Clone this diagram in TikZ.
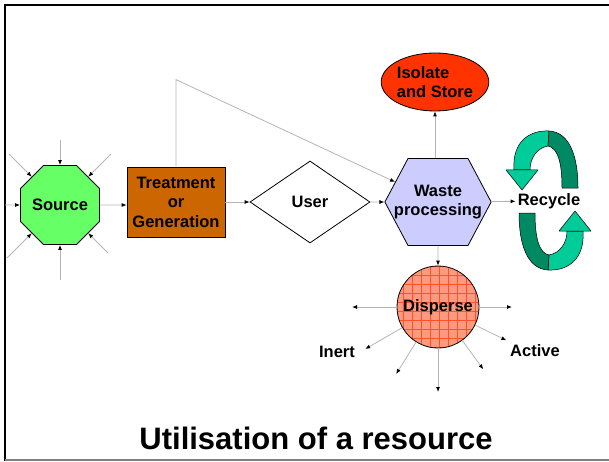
\documentclass[tikz,border=0pt]{standalone}
\usepackage{fontspec}
\setmainfont{Liberation Sans}
\usetikzlibrary{shapes.geometric,shapes.symbols,arrows.meta}

\definecolor{srcgreen}{HTML}{66FF66}
\definecolor{treatbrown}{HTML}{CC6600}
\definecolor{wastelilac}{HTML}{CCCCFF}
\definecolor{isored}{HTML}{FF3300}
\definecolor{dispsalmon}{HTML}{FF9A80}
\definecolor{reclight}{HTML}{00CC99}
\definecolor{recdark}{HTML}{008A64}
\definecolor{linegray}{HTML}{B4B4B4}

\begin{document}
\begin{tikzpicture}[x=1pt,y=1pt,
  lbl/.style={font=\fontsize{16.5}{19.5}\selectfont\bfseries, align=center},
  shp/.style={draw=black, line width=0.8pt, inner sep=0pt, lbl},
  flow/.style={draw=linegray, line width=0.8pt, -{Latex[length=5pt,width=4pt,color=black]}},
  rib/.style={draw=black, line width=0.5pt, line join=round}]
\useasboundingbox (0,0) rectangle (609,461);
% frame
\draw [line width=2.5pt] (5,0) -- (5,456) -- (609,456);
\draw [gray, line width=1.5pt] (5,1) -- (609,1);

% main chain
\node [shp, regular polygon, regular polygon sides=8, minimum size=83, fill=srcgreen] (src) at (60,256) {Source};
\node [shp, rectangle, minimum width=98, minimum height=70, fill=treatbrown] (treat) at (176,259) {Treatment\\or\\Generation};
\node [shp, diamond, aspect=1.46, minimum width=120, minimum height=82, fill=white] (user) at (310,259) {User};
\node [shp, signal, signal to=east and west, signal pointer angle=124, minimum width=67, minimum height=87, fill=wastelilac] (waste) at (438,259) {\makebox[60pt]{Waste}\\\makebox[60pt]{processing}};
\node [shp, ellipse, minimum width=102, minimum height=58, fill=isored, align=left] (iso) at (435,379) {Isolate\\and Store};
\node [lbl, inner sep=2pt] (rec) at (549,260) {Recycle};
\node [shp, circle, minimum size=82, fill=dispsalmon,
  path picture={\draw [isored!85, line width=0.5pt, step=9pt] (path picture bounding box.south west) grid (path picture bounding box.north east);}] (disp) at (438,154) {Disperse};
\node [lbl] (inert) at (337,109) {Inert};
\node [lbl] (active) at (535,110) {Active};
\node [font=\fontsize{31}{36}\selectfont\bfseries] (title) at (316,23) {Utilisation of a resource};

% connectors
\draw [flow] (src) -- (treat.west |- src);
\draw [flow] (treat) -- (user);
\draw [flow] (user) -- (waste);
\draw [flow] (treat.north) -- ++(0,87) coordinate (bend) -- (waste);
\draw [flow] (waste) -- (rec);
\draw [flow] (waste.north -| iso) -- (iso);
\draw [flow] (waste) -- (disp);

% inputs to source
\foreach \a/\l in {45/72, 90/65, 135/72, 180/55, 225/75, 270/75, 315/68}
  \draw [flow] ([shift={(\a:\l)}]src.center) -- (src.\a);

% dispersal
\foreach \a/\l in {0/74, -26/76, -54/77, -90/85, -122/79, -150/84, 180/86}
  \draw [flow] (disp.\a) -- ([shift={(\a:\l)}]disp.center);

% recycle arrows
\foreach \r in {0,180} {
  \begin{scope}[rotate around={\r:(548.5,260.5)}]
    \filldraw [rib, fill=reclight] (514,291) .. controls (512,320) and (530,331) .. (549,330) -- (548,315) .. controls (537,313) and (530,303) .. (530,291) -- cycle;
    \filldraw [rib, fill=recdark] (549,330) .. controls (569,329) and (578,306) .. (578,273) -- (562,273) .. controls (562,298) and (558,313) .. (548,315) -- cycle;
    \filldraw [rib, fill=reclight] (506,291) -- (538,291) -- (522,271) -- cycle;
  \end{scope}
}
\end{tikzpicture}
\end{document}
